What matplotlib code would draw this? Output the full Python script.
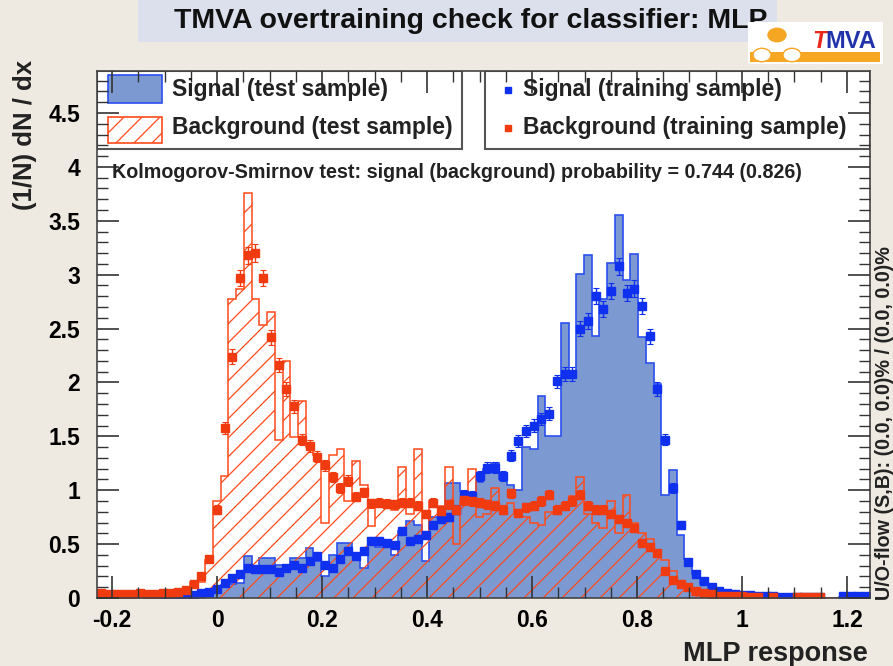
import numpy as np
import matplotlib
matplotlib.use('Agg')
import matplotlib.pyplot as plt
from matplotlib.patches import Rectangle, Circle
from matplotlib.collections import LineCollection
from matplotlib.transforms import IdentityTransform
from matplotlib.ticker import MultipleLocator

plt.rcParams['font.family'] = ['Liberation Sans', 'DejaVu Sans']
plt.rcParams['font.weight'] = 'bold'

# ---- data: MLP response histograms, 100 bins ----
xmin, xmax, nbins = -0.229, 1.244, 100

sig_test = [0.03, 0.01, 0.01, 0.0, 0.01, 0.0, 0.01, 0.01, 0.0, 0.01,
            0.01, 0.02, 0.02, 0.04, 0.05, 0.10, 0.12, 0.13, 0.14, 0.39,
            0.28, 0.37, 0.37, 0.31, 0.31, 0.37, 0.37, 0.46, 0.34, 0.20,
            0.40, 0.51, 0.51, 0.40, 0.28, 0.53, 0.47, 0.47, 0.40, 0.62,
            0.71, 0.68, 0.34, 0.75, 0.75, 1.07, 1.07, 0.99, 0.90, 1.08,
            1.20, 1.25, 1.10, 1.05, 1.00, 1.40, 1.38, 1.87, 1.50, 1.50,
            2.55, 2.10, 3.01, 3.18, 2.43, 2.77, 3.11, 3.55, 2.95, 3.19,
            2.42, 2.18, 1.99, 0.96, 1.19, 0.58, 0.36, 0.22, 0.13, 0.08,
            0.05, 0.03, 0.03, 0.03, 0.02, 0.02, 0.01, 0.01, 0.01, 0.01,
            0.01, 0.01, 0.01, 0.0, 0.0, 0.0, 0.01, 0.01, 0.02, 0.02]

bkg_test = [0.03, 0.03, 0.02, 0.03, 0.03, 0.02, 0.03, 0.03, 0.03, 0.04,
            0.05, 0.08, 0.15, 0.15, 0.35, 0.90, 1.13, 2.77, 2.87, 3.76,
            2.77, 2.53, 2.65, 1.47, 2.20, 1.49, 1.83, 1.40, 1.33, 0.70,
            1.33, 1.38, 0.90, 1.27, 1.05, 0.67, 0.85, 0.85, 0.82, 1.22,
            0.78, 1.38, 0.55, 0.90, 0.85, 1.22, 0.50, 0.90, 1.20, 0.75,
            0.78, 1.02, 0.85, 0.88, 0.80, 0.75, 0.70, 0.68, 0.80, 0.78,
            0.85, 0.95, 1.12, 0.78, 0.70, 0.65, 0.90, 0.60, 0.96, 0.70,
            0.60, 0.55, 0.45, 0.35, 0.25, 0.15, 0.08, 0.03, 0.02, 0.01,
            0.01, 0.01, 0.01, 0.01, 0.0, 0.01, 0.0, 0.01, 0.0, 0.0,
            0.01, 0.01, 0.01, 0.01, 0.0, 0.0, 0.0, 0.0, 0.0, 0.0]

nan = np.nan
sig_train = [0.02, nan, 0.01, 0.01, 0.01, nan, 0.01, 0.01, 0.01, 0.01,
             0.02, 0.03, 0.03, 0.05, 0.06, 0.08, 0.14, 0.19, 0.22, 0.28,
             0.27, 0.27, 0.27, 0.24, 0.28, 0.31, 0.28, 0.34, 0.39, 0.31,
             0.28, 0.36, 0.44, 0.39, 0.44, 0.53, 0.53, 0.51, 0.49, 0.62,
             0.53, 0.55, 0.58, 0.68, 0.73, 0.75, 0.82, 0.96, 0.95, 1.13,
             1.21, 1.21, 1.13, 1.32, 1.46, 1.55, 1.60, 1.66, 1.71, 2.01,
             2.08, 2.08, 2.50, 2.57, 2.80, 2.68, 2.85, 3.08, 2.83, 2.87,
             2.71, 2.43, 1.94, 1.47, 1.02, 0.68, 0.33, 0.22, 0.16, 0.10,
             0.065, 0.05, 0.04, 0.03, 0.03, 0.02, 0.02, 0.02, 0.01, 0.01,
             0.01, 0.01, 0.01, 0.01, nan, nan, 0.02, 0.02, 0.02, 0.02]

bkg_train = [0.05, 0.04, 0.04, 0.04, 0.04, 0.05, 0.04, 0.04, 0.05, 0.05,
             0.06, 0.07, 0.13, 0.20, 0.36, 0.82, 1.58, 2.24, 2.97, 3.18,
             3.20, 2.97, 2.42, 2.16, 1.94, 1.78, 1.47, 1.41, 1.31, 1.23,
             1.12, 1.02, 1.09, 0.94, 0.98, 0.88, 0.885, 0.875, 0.87, 0.885,
             0.885, 0.855, 0.78, 0.885, 0.81, 0.87, 0.82, 0.91, 0.90, 0.885,
             0.87, 0.855, 0.82, 0.97, 0.79, 0.84, 0.855, 0.90, 0.96, 0.82,
             0.855, 0.90, 0.96, 0.855, 0.82, 0.82, 0.78, 0.73, 0.70, 0.65,
             0.51, 0.47, 0.42, 0.25, 0.17, 0.13, 0.10, 0.065, 0.05, 0.04,
             0.02, 0.02, 0.02, 0.02, 0.01, 0.01, nan, 0.01, nan, nan,
             0.01, 0.01, 0.01, 0.01, nan, nan, nan, nan, nan, nan]

title = 'TMVA overtraining check for classifier: MLP'
ks_text = 'Kolmogorov-Smirnov test: signal (background) probability = 0.744 (0.826)'
flow_text = 'U/O-flow (S,B): (0.0, 0.0)% / (0.0, 0.0)%'

BG = '#EEEAE1'
SIG_FILL = '#7D99D1'
SIG_LINE = '#2B4FEF'
BKG_LINE = '#FF4A1A'
SIG_PT = '#1030F0'
BKG_PT = '#F03A10'

W, H = 893, 666


def fx(px):
    return px / W


def fy(py):
    return 1 - py / H


def hatch_into(ax, patch, color, step=19, lw=0.9):
    '''diagonal ROOT-like hatching (style 3554), clipped to a patch'''
    segs = []
    for c in range(-W, W + H, step):
        segs.append([(c, 0), (c + H, H)])
    lc = LineCollection(segs, colors=color, linewidths=lw,
                        transform=IdentityTransform(), zorder=patch.get_zorder())
    ax.add_collection(lc, autolim=False)
    # set the clip after adding, otherwise the axes patch replaces it
    lc.set_clip_path(patch.get_path(), patch.get_transform())
    return lc


fig = plt.figure(figsize=(W / 100, H / 100), dpi=100, facecolor=BG)
ax = fig.add_axes([fx(97), fy(598), 773 / W, 527 / H])
ax.set_facecolor('white')
ax.set_xlim(xmin, xmax)
ax.set_ylim(0, 4.89)

edges = np.linspace(xmin, xmax, nbins + 1)
centers = 0.5 * (edges[1:] + edges[:-1])

# signal (test) filled, background (test) hatched
ax.stairs(sig_test, edges, fill=True, facecolor=SIG_FILL, edgecolor='none', zorder=1)
ax.stairs(sig_test, edges, color=SIG_LINE, lw=1.2, baseline=0, zorder=1.1)
bkg_area = ax.stairs(bkg_test, edges, fill=True, facecolor='none',
                     edgecolor='none', zorder=1.2)
hatch_into(ax, bkg_area, BKG_LINE)
ax.stairs(bkg_test, edges, color=BKG_LINE, lw=1.1, baseline=0, zorder=1.3)

# training samples as points with error bars
for vals, col in [(sig_train, SIG_PT), (bkg_train, BKG_PT)]:
    v = np.array(vals, dtype=float)
    err = 0.045 * np.sqrt(np.nan_to_num(v))
    ax.errorbar(centers, v, yerr=err, fmt='s', ms=6, color=col, ecolor=col,
                elinewidth=1, capsize=2, capthick=0.8, zorder=2)

ax.xaxis.set_major_locator(MultipleLocator(0.2))
ax.xaxis.set_minor_locator(MultipleLocator(0.05))
ax.yaxis.set_major_locator(MultipleLocator(0.5))
ax.yaxis.set_minor_locator(MultipleLocator(0.1))
ax.tick_params(which='both', direction='in', top=True, right=True,
               color='#333333', labelsize=16.5)
ax.tick_params(which='major', length=16, width=1.2)
ax.tick_params(which='minor', length=8, width=1.0)
ax.tick_params(axis='x', pad=8)
ax.tick_params(axis='y', pad=12)
ax.set_xticklabels([f'{t:g}' for t in ax.get_xticks()])
ax.set_yticklabels([f'{t:g}' for t in ax.get_yticks()])
for s in ax.spines.values():
    s.set_color('#444444')
    s.set_linewidth(1.2)
ax.set_axisbelow(False)

# legend boxes
ax.add_patch(Rectangle((0, 0.852), 0.472, 0.148, transform=ax.transAxes,
                       facecolor='white', edgecolor='#555555', lw=1.5, zorder=2.2))
ax.add_patch(Rectangle((0.502, 0.852), 0.498, 0.148, transform=ax.transAxes,
                       facecolor='white', edgecolor='#555555', lw=1.5, zorder=2.2))
ax.add_patch(Rectangle((0.0142, 0.939), 0.07, 0.053, transform=ax.transAxes,
                       facecolor=SIG_FILL, edgecolor=SIG_LINE, lw=1.2, zorder=2.3))
leg_bkg = Rectangle((0.0142, 0.863), 0.07, 0.05, transform=ax.transAxes,
                    facecolor='white', edgecolor=BKG_LINE, lw=1.2, zorder=2.3)
ax.add_patch(leg_bkg)
hatch_into(ax, leg_bkg, BKG_LINE, step=18)
ax.text(0.097, 0.964, 'Signal (test sample)', transform=ax.transAxes,
        fontsize=16.5, va='center', color='#222222', zorder=3)
ax.text(0.097, 0.892, 'Background (test sample)', transform=ax.transAxes,
        fontsize=16.5, va='center', color='#222222', zorder=3)
ax.plot([0.532], [0.964], 's', ms=4.5, color=SIG_PT, transform=ax.transAxes, zorder=3)
ax.plot([0.532], [0.892], 's', ms=4.5, color=BKG_PT, transform=ax.transAxes, zorder=3)
ax.text(0.551, 0.964, 'Signal (training sample)', transform=ax.transAxes,
        fontsize=16.5, va='center', color='#222222', zorder=3)
ax.text(0.551, 0.892, 'Background (training sample)', transform=ax.transAxes,
        fontsize=16.5, va='center', color='#222222', zorder=3)
ax.text(0.019, 0.808, ks_text, transform=ax.transAxes, fontsize=14.2,
        va='center', color='#222222', zorder=3)

# axis titles
fig.text(fx(25), fy(60), '(1/N) dN / dx', rotation=90, ha='center', va='top',
         fontsize=18.5, color='#222222')
fig.text(fx(868), fy(654), 'MLP response', ha='right', va='center',
         fontsize=19.5, color='#222222')
fig.text(fx(884), fy(600), flow_text, rotation=90, ha='center', va='bottom',
         fontsize=14.2, color='#222222')

# title box
fig.patches.append(Rectangle((fx(138), fy(42)), fx(777) - fx(138), fy(0) - fy(42),
                             transform=fig.transFigure, facecolor='#DCE0EC',
                             edgecolor='none', zorder=1))
fig.text(fx(174), fy(21), title, ha='left', va='center', fontsize=20.5,
         color='#111111', zorder=2)

# TMVA logo
fig.patches.append(Rectangle((fx(748), fy(64)), fx(135), fy(22) - fy(64),
                             transform=fig.transFigure, facecolor='white',
                             edgecolor='none', zorder=3))
fig.patches.append(Rectangle((fx(750), fy(62)), fx(130), fy(52) - fy(62),
                             transform=fig.transFigure, facecolor='#F5A623',
                             edgecolor='none', zorder=3.1))
for cx, cy, fc in [(777, 35, '#F5A623'), (762, 55, 'white'), (792, 55, 'white')]:
    fig.patches.append(Circle((fx(cx), fy(cy)), 9 / W, transform=fig.transFigure,
                              facecolor=fc, edgecolor='#F5A623', lw=1, zorder=3.2))
fig.text(fx(812), fy(41), 'T', ha='left', va='center', fontsize=17,
         style='italic', color='#E8281A', zorder=4)
fig.text(fx(825), fy(41), 'MVA', ha='left', va='center', fontsize=17,
         color='#2233AA', zorder=4)

fig.savefig('out.png', dpi=100, facecolor=BG)
